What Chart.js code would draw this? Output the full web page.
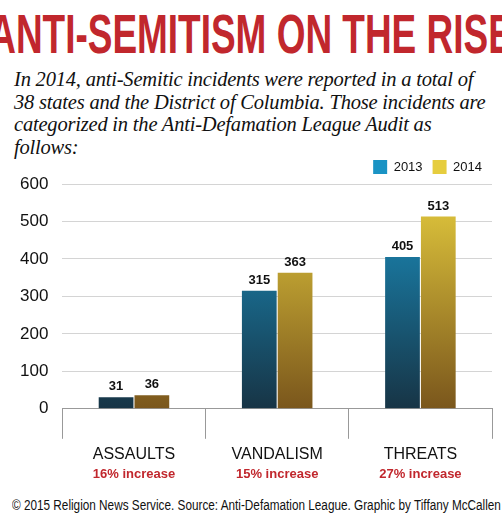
<!DOCTYPE html>
<html><head><meta charset="utf-8">
<script src="https://cdn.jsdelivr.net/npm/chart.js@4"></script>
<style>
body{margin:0;width:502px;height:525px;background:#fff;font-family:"Liberation Sans",sans-serif;position:relative;overflow:hidden}
#title{position:absolute;left:251px;top:4px;white-space:nowrap;color:#c1272d;font-weight:bold;font-size:56px;line-height:60px;transform:translateX(-50%) scaleX(0.66);transform-origin:center}
#sub{position:absolute;left:14px;width:480px;top:68px;font-family:"Liberation Serif",serif;font-style:italic;font-size:20.5px;line-height:22.5px;color:#111;letter-spacing:-0.2px}
#wrap{position:absolute;left:0;top:150px;width:502px;height:340px}
#foot{position:absolute;left:12px;top:497px;font-size:14px;white-space:nowrap;color:#111;transform:scaleX(0.84);transform-origin:left}
</style></head><body>
<div id="title">ANTI-SEMITISM ON THE RISE</div>
<div id="sub">In 2014, anti-Semitic incidents were reported in a total of 38 states and the District of Columbia. Those incidents are categorized in the Anti-Defamation League Audit as follows:</div>
<div id="wrap"><canvas id="c"></canvas></div>
<div id="foot">© 2015 Religion News Service. Source: Anti-Defamation League. Graphic by Tiffany McCallen</div>
<script>
const categories = ['ASSAULTS', 'VANDALISM', 'THREATS'];
const increases = ['16% increase', '15% increase', '27% increase'];
const values2013 = [31, 315, 405];
const values2014 = [36, 363, 513];
const FONT = '"Liberation Sans",sans-serif';

const grad = (top, bottom) => ctx => {
  const { chart } = ctx;
  const area = chart.chartArea;
  if (!area) return top;
  const g = chart.ctx.createLinearGradient(0, area.top, 0, area.bottom);
  g.addColorStop(0, top);
  g.addColorStop(1, bottom);
  return g;
};

const extras = {
  id: 'extras',
  afterDatasetsDraw(chart) {
    const c = chart.ctx;
    c.save();
    c.font = 'bold 13px ' + FONT;
    c.fillStyle = '#111';
    c.textAlign = 'center';
    c.textBaseline = 'bottom';
    chart.data.datasets.forEach((ds, i) => {
      chart.getDatasetMeta(i).data.forEach((bar, j) => {
        c.fillText(ds.data[j], bar.x, bar.y - 4);
      });
    });
    const x = chart.scales.x;
    c.fillStyle = '#c1272d';
    c.textBaseline = 'top';
    increases.forEach((t, j) => c.fillText(t, x.getPixelForValue(j), x.bottom - 2));
    c.restore();
  }
};

new Chart(document.getElementById('c'), {
  type: 'bar',
  data: {
    labels: categories,
    datasets: [
      { label: '2013', data: values2013, backgroundColor: grad('#1a93c4', '#173445') },
      { label: '2014', data: values2014, backgroundColor: grad('#e6cd3e', '#7a561c') },
    ],
  },
  options: {
    responsive: true,
    maintainAspectRatio: false,
    animation: false,
    layout: { padding: { left: 6, right: 10, top: 0, bottom: 20 } },
    datasets: { bar: { categoryPercentage: 0.5, barPercentage: 0.97 } },
    plugins: {
      legend: {
        align: 'end',
        labels: { boxWidth: 14, boxHeight: 14, font: { family: FONT, size: 13 }, color: '#111' },
      },
      tooltip: { enabled: false },
    },
    scales: {
      y: {
        min: 0, max: 600,
        ticks: { stepSize: 100, font: { family: FONT, size: 17 }, color: '#111', padding: 14 },
        grid: { color: '#d4d4d4', drawTicks: false },
        border: { display: false },
      },
      x: {
        ticks: { font: { family: FONT, size: 16 }, color: '#111', padding: 6 },
        grid: { offset: true, color: '#999', drawOnChartArea: false, tickLength: 30 },
        border: { color: '#999' },
      },
    },
  },
  plugins: [extras],
});
</script>
</body></html>
